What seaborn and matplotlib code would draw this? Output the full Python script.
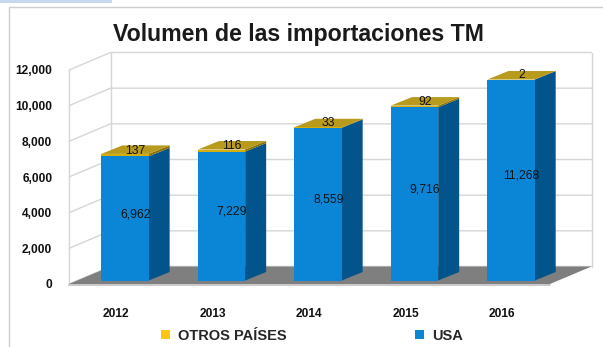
import matplotlib
matplotlib.use("Agg")
import matplotlib.pyplot as plt
import seaborn as sns
import pandas as pd
from matplotlib.patches import Polygon, Rectangle, Patch
from matplotlib.lines import Line2D
from matplotlib.transforms import IdentityTransform, Affine2D
from matplotlib.ticker import FuncFormatter

# ---- data -------------------------------------------------------------
years = ["2012", "2013", "2014", "2015", "2016"]
usa = [6962, 7229, 8559, 9716, 11268]
otros = [137, 116, 33, 92, 2]
y_ticks = [0, 2000, 4000, 6000, 8000, 10000, 12000]
series_names = ["OTROS PAÍSES", "USA"]
title = "Volumen de las importaciones TM"

# ---- style ------------------------------------------------------------
sns.set_theme(style="white")
plt.rcParams["font.family"] = ["Liberation Sans", "DejaVu Sans"]

blue_front = "#0b86d6"
blue_side = "#02548a"
gold_front = "#d6ae0c"
gold_top = "#b89a1c"
gold_side = "#8c7305"
gold_legend = "#ffc510"
grid_col = "#d6d6d6"
floor_col = "#7f7f7f"

W, H = 603, 347
fig = plt.figure(figsize=(W / 100, H / 100), dpi=100)
ax = fig.add_axes([69 / W, 63 / H, 481 / W, 214 / H])

df = pd.DataFrame({"year": years, "usa": usa, "otros": otros})
df["total"] = df["usa"] + df["otros"]

# stacked bars: totals first, USA drawn over the lower part
n0 = len(ax.patches)
sns.barplot(data=df, x="year", y="total", color=gold_front, width=0.49,
            saturation=1, ax=ax)
total_bars = ax.patches[n0:]
n1 = len(ax.patches)
sns.barplot(data=df, x="year", y="usa", color=blue_front, width=0.49,
            saturation=1, ax=ax)
usa_bars = ax.patches[n1:]

xlim = (-0.487, 4.497)
ylim = (0, 12000)
ax.set_xlim(*xlim)
ax.set_ylim(*ylim)
ax.set_autoscale_on(False)
ax.patch.set_visible(False)
for s in ax.spines.values():
    s.set_visible(False)
ax.set_xlabel("")
ax.set_ylabel("")

# depth vectors (display pixels): full box depth, bar front and back planes
D_FULL = (41.5, 17.5)
D_FRONT = (9.0, 3.5)
D_BACK = (30.0, 12.0)
D_MID = ((D_FRONT[0] + D_BACK[0]) / 2, (D_FRONT[1] + D_BACK[1]) / 2)
ORIGIN = (0.0, 0.0)


def disp(x, y, off):
    px, py = ax.transData.transform((x, y))
    return (px + off[0], py + off[1])


def face(points, color, z, ec="none", lw=0.0):
    ax.add_patch(Polygon(points, closed=True, facecolor=color, edgecolor=ec,
                         linewidth=lw, transform=IdentityTransform(),
                         clip_on=False, zorder=z))


def seg(points, color, z, lw=1.0):
    xs = [p[0] for p in points]
    ys = [p[1] for p in points]
    ax.add_line(Line2D(xs, ys, color=color, linewidth=lw,
                       transform=IdentityTransform(), clip_on=False, zorder=z))


x0, x1 = xlim
y0, y1 = ylim

# back wall and left wall
face([disp(x0, y0, D_FULL), disp(x1, y0, D_FULL),
      disp(x1, y1, D_FULL), disp(x0, y1, D_FULL)], "white", 0.5)
face([disp(x0, y0, ORIGIN), disp(x0, y1, ORIGIN),
      disp(x0, y1, D_FULL), disp(x0, y0, D_FULL)], "white", 0.5)

# grid lines running along the left wall and across the back wall
for v in y_ticks:
    seg([disp(x0, v, ORIGIN), disp(x0, v, D_FULL), disp(x1, v, D_FULL)],
        grid_col, 0.6)
seg([disp(x0, y0, ORIGIN), disp(x0, y1, ORIGIN)], grid_col, 0.6)
seg([disp(x0, y0, D_FULL), disp(x0, y1, D_FULL)], grid_col, 0.6)
seg([disp(x1, y0, D_FULL), disp(x1, y1, D_FULL)], grid_col, 0.6)

# floor
face([disp(x0, 0, ORIGIN), disp(x1, 0, ORIGIN),
      disp(x1, 0, D_FULL), disp(x0, 0, D_FULL)], floor_col, 0.7)
fa, fb = disp(x0, 0, ORIGIN), disp(x1, 0, ORIGIN)
seg([(fa[0], fa[1] - 1.2), (fb[0], fb[1] - 1.2)], "#c4c4c4", 0.7, lw=1.3)

# bar fronts pushed back into the box, plus side and top faces
shift = Affine2D().translate(*D_FRONT)
for p in total_bars:
    p.set_transform(ax.transData + shift)
    p.set_clip_on(False)
    p.set_zorder(3)
    p.set_edgecolor("none")
for p in usa_bars:
    p.set_transform(ax.transData + shift)
    p.set_clip_on(False)
    p.set_zorder(3.1)
    p.set_edgecolor("none")

for pt, pu in zip(total_bars, usa_bars):
    bx, bw = pu.get_x(), pu.get_width()
    hu, ht = pu.get_height(), pt.get_height()
    xr = bx + bw
    # side faces
    face([disp(xr, 0, D_FRONT), disp(xr, hu, D_FRONT),
          disp(xr, hu, D_BACK), disp(xr, 0, D_BACK)], blue_side, 2)
    face([disp(xr, hu, D_FRONT), disp(xr, ht, D_FRONT),
          disp(xr, ht, D_BACK), disp(xr, hu, D_BACK)], gold_side, 2)
    # top face
    face([disp(bx, ht, D_FRONT), disp(xr, ht, D_FRONT),
          disp(xr, ht, D_BACK), disp(bx, ht, D_BACK)], gold_top, 2.1)

# value labels at the centre of each segment
mid = ax.transData + Affine2D().translate(*D_MID)
for pu, u, o in zip(usa_bars, usa, otros):
    cx = pu.get_x() + pu.get_width() / 2
    ax.text(cx, u / 2, f"{u:,}", transform=mid, ha="center", va="center",
            fontsize=8.8, color="#111111", zorder=5, clip_on=False)
    ax.text(cx, u + o / 2, f"{o:,}", transform=mid, ha="center", va="center",
            fontsize=8.8, color="#111111", zorder=5, clip_on=False)

# axis ticks
ax.set_yticks(y_ticks)
ax.yaxis.set_major_formatter(FuncFormatter(lambda v, _: f"{int(v):,}"))
ax.set_xticks(range(len(years)))
ax.set_xticklabels(years)
ax.tick_params(axis="y", length=0, pad=12, labelsize=8.6, labelcolor="#111111")
ax.tick_params(axis="x", length=0, pad=17.5, labelsize=8.6, labelcolor="#111111")
for lab in ax.get_yticklabels() + ax.get_xticklabels():
    lab.set_fontweight("bold")

# title and legend
fig.text(298 / W, 1 - 34 / H, title, ha="center", va="center",
         fontsize=16.7, fontweight="bold", color="#1a1a1a")
handles = [Patch(facecolor=gold_legend, edgecolor="none"),
           Patch(facecolor=blue_front, edgecolor="none")]
fig.legend(handles, series_names, loc="center",
           bbox_to_anchor=(312 / W, 1 - 336 / H), ncol=2, frameon=False,
           prop={"weight": "bold", "size": 10.5},
           handlelength=0.6, handleheight=0.6, handletextpad=0.55,
           columnspacing=8.8, borderaxespad=0, borderpad=0)

# surrounding frame
fig.add_artist(Rectangle((0, 1 - 2.5 / H), 112 / W, 2.5 / H,
                         transform=fig.transFigure, facecolor="#c6d7ee",
                         edgecolor="none"))
fig.add_artist(Line2D([8.5 / W, 1], [1 - 6.5 / H, 1 - 6.5 / H],
                      transform=fig.transFigure, color="#cdcdcd", lw=1))
fig.add_artist(Line2D([8.5 / W, 8.5 / W], [0, 1 - 6.5 / H],
                      transform=fig.transFigure, color="#cdcdcd", lw=1))

fig.savefig("out.png", dpi=100)
